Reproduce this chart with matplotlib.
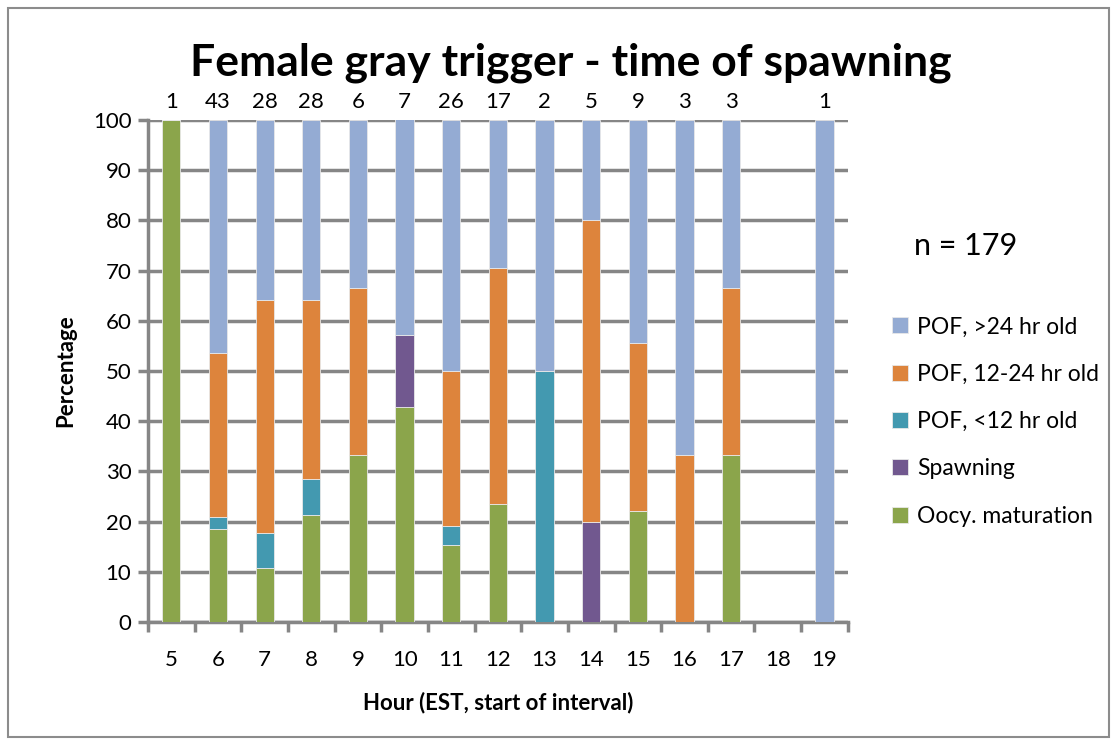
import matplotlib.pyplot as plt
import numpy as np
from matplotlib.patches import Rectangle

plt.rcParams['font.family'] = ['Lato', 'DejaVu Sans']

hours = [5, 6, 7, 8, 9, 10, 11, 12, 13, 14, 15, 16, 17, 18, 19]
counts = ['1', '43', '28', '28', '6', '7', '26', '17', '2', '5', '9', '3', '3', '', '1']

oocy = [100, 18.6, 10.7, 21.4, 33.3, 42.9, 15.4, 23.5, 0, 0, 22.2, 0, 33.3, 0, 0]
spawning = [0, 0, 0, 0, 0, 14.3, 0, 0, 0, 20, 0, 0, 0, 0, 0]
pof_lt12 = [0, 2.3, 7.1, 7.1, 0, 0, 3.8, 0, 50, 0, 0, 0, 0, 0, 0]
pof_12_24 = [0, 32.6, 46.4, 35.7, 33.3, 0, 30.8, 47.1, 0, 60, 33.3, 33.3, 33.3, 0, 0]
pof_gt24 = [0, 46.5, 35.7, 35.7, 33.3, 42.9, 50, 29.4, 50, 20, 44.4, 66.7, 33.3, 0, 100]

series = [
    ("Oocy. maturation", oocy, "#8ba54b"),
    ("Spawning", spawning, "#71588f"),
    ("POF, <12 hr old", pof_lt12, "#4399b0"),
    ("POF, 12-24 hr old", pof_12_24, "#dd843c"),
    ("POF, >24 hr old", pof_gt24, "#94abd3"),
]

fig = plt.figure(figsize=(11.17, 7.45), dpi=100)
ax = fig.add_axes([0.1325, 0.165, 0.6265, 0.674])

x = np.arange(len(hours))
bottom = np.zeros(len(hours))
handles = []
for name, vals, color in series:
    vals = np.array(vals)
    b = ax.bar(x, vals, 0.39, bottom=bottom, color=color, edgecolor="#e8e8e8",
               linewidth=0.6, label=name, zorder=3)
    handles.append(b)
    bottom += vals

ax.set_xlim(-0.5, len(hours) - 0.5)
ax.set_ylim(0, 100)
ax.set_yticks(np.arange(0, 101, 10))
ax.set_xticks(x)
ax.set_xticklabels([str(h) for h in hours], fontsize=16)
ax.set_xticks(np.arange(-0.5, len(hours), 1), minor=True)
ax.tick_params(axis='x', which='major', length=0, pad=20)
ax.tick_params(axis='x', which='minor', length=7, width=2.5, color="#868686", direction='out')
ax.tick_params(axis='y', length=7, width=2.5, color="#868686", labelsize=16, pad=5)
ax.grid(axis='y', color="#868686", linewidth=2.5, zorder=0)
for s in ['top', 'right']:
    ax.spines[s].set_visible(False)
for s in ['left', 'bottom']:
    ax.spines[s].set_color("#868686")
    ax.spines[s].set_linewidth(2.5)

for xi, c in zip(x, counts):
    ax.text(xi, 101.5, c, ha='center', va='bottom', fontsize=16)

ax.set_ylabel("Percentage", fontsize=16, fontweight='bold', labelpad=12)
ax.set_xlabel("Hour (EST, start of interval)", fontsize=16, fontweight='bold', labelpad=16)

fig.text(0.511, 0.916, "Female gray trigger - time of spawning", ha='center', va='center',
         fontsize=32, fontweight='bold')
fig.text(0.818, 0.67, "n = 179", ha='left', va='center', fontsize=22)

fig.legend(handles[::-1], [s[0] for s in series][::-1], loc='upper left',
           bbox_to_anchor=(0.78, 0.603), frameon=False, fontsize=16.5,
           handlelength=0.7, handleheight=0.7, handletextpad=0.4, labelspacing=1.15)

fig.patches.append(Rectangle((0.007, 0.011), 0.986, 0.978, transform=fig.transFigure,
                             fill=False, edgecolor="#8c8c8c", linewidth=1.5))

fig.savefig("out.png", dpi=100)
